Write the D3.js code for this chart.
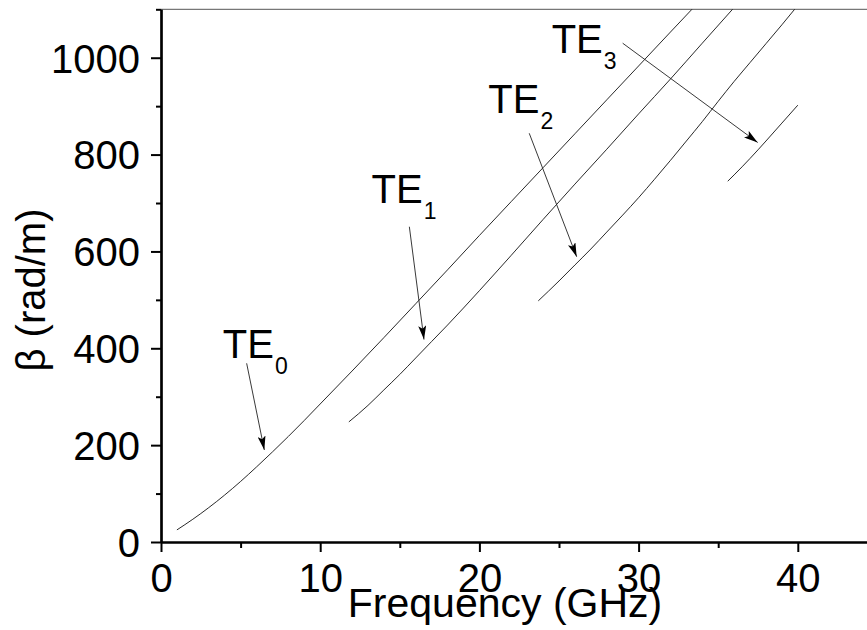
<!DOCTYPE html>
<html>
<head>
<meta charset="utf-8">
<script src="https://cdn.jsdelivr.net/npm/d3@7"></script>
<style>
  html, body { margin: 0; padding: 0; background: #fff; }
  svg { display: block; font-family: "Liberation Sans", Arial, sans-serif; }
</style>
</head>
<body>
<svg id="chart" width="867" height="630"></svg>
<script>
// ---- data (frequency in GHz, beta in rad/m) ----
const te0Freq = [1.0, 2, 3, 4, 5, 6, 7, 8, 9, 10, 12, 14, 16, 18, 20, 22, 24, 26, 28, 30, 32, 33.35];
const te0Beta = [25, 47, 71, 97, 125, 155, 186, 218, 251, 285, 353, 422, 492, 562, 633, 703, 773, 843, 913, 983, 1053, 1100];

const te1Freq = [11.8, 13, 14, 15, 16, 17, 18, 20, 22, 24, 26, 28, 30, 32, 34, 35.9];
const te1Beta = [248, 282, 314, 346, 380, 414, 448, 519, 592, 666, 739, 811, 884, 956, 1030, 1100];

const te2Freq = [23.7, 25, 26, 27, 28, 29, 30, 31, 32, 33, 34, 35, 36, 37, 38, 39, 39.8];
const te2Beta = [498, 539, 572, 605, 640, 675, 711, 749, 788, 828, 868, 910, 951, 990, 1029, 1068, 1100];

const te3Freq = [35.6, 36, 37, 38, 39, 40.0];
const te3Beta = [745, 758, 792, 828, 865, 902];

const xMajorTicks = [0, 10, 20, 30, 40];
const xMinorTicks = [5, 15, 25, 35];
const yMajorTicks = [0, 200, 400, 600, 800, 1000];
const yMinorTicks = [100, 300, 500, 700, 900, 1100];

const modeNames = ["TE", "TE", "TE", "TE"];
const modeSubs = ["0", "1", "2", "3"];
// label anchor (data units) and arrow start/end (data units)
const labelFreq = [3.88, 13.23, 20.56, 24.54];
const labelBeta = [379, 699, 885, 1009];
const arrowFromFreq = [5.38, 15.6, 23.13, 29.0];
const arrowFromBeta = [369, 651, 844, 1030];
const arrowToFreq = [6.49, 16.52, 26.11, 37.48];
const arrowToBeta = [190, 418, 589, 825];

// ---- layout ----
const W = 867, H = 630;
const mLeft = 161, mRight = 867, mTop = 9.3, mBottom = 542;
const pxPerGHz = 15.92;
const x = d3.scaleLinear().domain([0, (mRight - mLeft) / pxPerGHz]).range([mLeft, mRight]);
const y = d3.scaleLinear().domain([0, 1100]).range([mBottom, mTop]);

const svg = d3.select("#chart");
const defs = svg.append("defs");

defs.append("clipPath").attr("id", "plotclip")
  .append("rect").attr("x", mLeft).attr("y", mTop - 1).attr("width", mRight - mLeft).attr("height", mBottom - mTop + 1);

const marker = defs.append("marker")
  .attr("id", "arrowhead")
  .attr("viewBox", "0 0 14 8")
  .attr("refX", 14).attr("refY", 4)
  .attr("markerWidth", 14).attr("markerHeight", 8)
  .attr("markerUnits", "userSpaceOnUse")
  .attr("orient", "auto");
marker.append("path").attr("d", "M0,0 L14,4 L0,8 L3,4 Z").attr("fill", "#000");

// top frame line
svg.append("line")
  .attr("x1", mLeft).attr("x2", mRight)
  .attr("y1", y(1100)).attr("y2", y(1100))
  .attr("stroke", "#555").attr("stroke-width", 1);

// ---- curves ----
const series = [
  [te0Freq, te0Beta],
  [te1Freq, te1Beta],
  [te2Freq, te2Beta],
  [te3Freq, te3Beta]
];
const line = d3.line().x(d => x(d[0])).y(d => y(d[1])).curve(d3.curveMonotoneX);
const g = svg.append("g").attr("clip-path", "url(#plotclip)");
series.forEach(([fs, bs]) => {
  g.append("path")
    .datum(fs.map((f, i) => [f, bs[i]]))
    .attr("d", line)
    .attr("fill", "none")
    .attr("stroke", "#111")
    .attr("stroke-width", 0.9);
});

// ---- axes ----
const fontSize = 40;
const xAxisMajor = d3.axisBottom(x).tickValues(xMajorTicks).tickSize(10).tickPadding(11.6).tickFormat(d3.format("d"));
const xAxisMinor = d3.axisBottom(x).tickValues(xMinorTicks).tickSize(6).tickFormat("");
const yAxisMajor = d3.axisLeft(y).tickValues(yMajorTicks).tickSize(10).tickPadding(11).tickFormat(d3.format("d"));
const yAxisMinor = d3.axisLeft(y).tickValues(yMinorTicks).tickSize(5).tickFormat("");

function styleAxis(sel) {
  sel.select(".domain").attr("stroke", "#000").attr("stroke-width", 2.2);
  sel.selectAll(".tick line").attr("stroke", "#000").attr("stroke-width", 2);
  sel.selectAll(".tick text").attr("fill", "#000").attr("font-size", fontSize)
    .attr("font-family", "'Liberation Sans', Arial, sans-serif");
}

svg.append("g").attr("transform", `translate(0,${mBottom})`).call(xAxisMinor.tickSizeOuter(0)).call(styleAxis);
svg.append("g").attr("transform", `translate(0,${mBottom})`).call(xAxisMajor.tickSizeOuter(0)).call(styleAxis);
svg.append("g").attr("transform", `translate(${mLeft},0)`).call(yAxisMinor.tickSizeOuter(0)).call(styleAxis);
const yg = svg.append("g").attr("transform", `translate(${mLeft},0)`).call(yAxisMajor.tickSizeOuter(0)).call(styleAxis);
yg.selectAll(".tick text").attr("dy", "0.36em");

// axis titles
svg.append("text")
  .attr("x", 505).attr("y", 617)
  .attr("text-anchor", "middle")
  .attr("font-size", 41)
  .attr("fill", "#000")
  .text("Frequency (GHz)");

svg.append("text")
  .attr("transform", `translate(45,290) rotate(-90)`)
  .attr("text-anchor", "middle")
  .attr("font-size", 40)
  .attr("fill", "#000")
  .text("β (rad/m)");

// ---- annotations ----
modeNames.forEach((name, i) => {
  const t = svg.append("text")
    .attr("x", x(labelFreq[i])).attr("y", y(labelBeta[i]))
    .attr("font-size", 40).attr("fill", "#000");
  t.append("tspan").text(name);
  t.append("tspan").attr("font-size", 23).attr("dy", 16).attr("dx", 1).text(modeSubs[i]);

  svg.append("line")
    .attr("x1", x(arrowFromFreq[i])).attr("y1", y(arrowFromBeta[i]))
    .attr("x2", x(arrowToFreq[i])).attr("y2", y(arrowToBeta[i]))
    .attr("stroke", "#222").attr("stroke-width", 0.9)
    .attr("marker-end", "url(#arrowhead)");
});
</script>
</body>
</html>
